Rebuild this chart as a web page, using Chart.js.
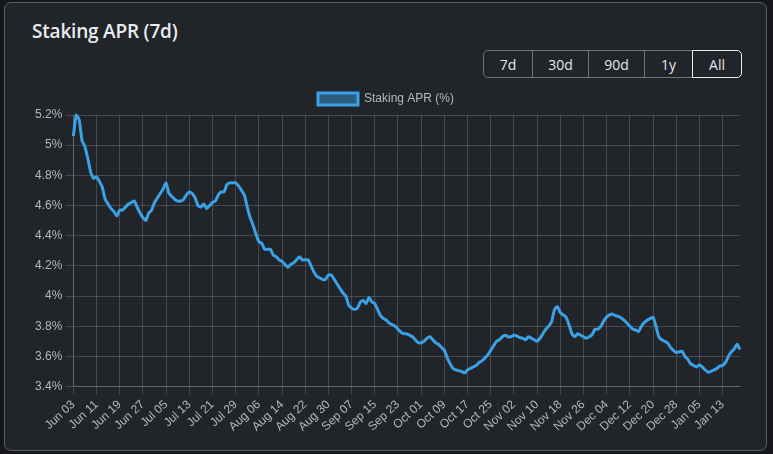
<!DOCTYPE html>
<html>
<head>
<meta charset="utf-8">
<script src="https://cdn.jsdelivr.net/npm/chart.js@4.4.1/dist/chart.umd.min.js"></script>
<style>
  html,body{margin:0;padding:0;background:#15171a;width:773px;height:454px;overflow:hidden;}
  .card{position:absolute;left:4px;top:2px;width:763px;height:449px;background:#212429;border:1px solid #5a5f66;border-radius:7px;box-sizing:border-box;}
  .title{position:absolute;left:32px;top:18px;color:#e9ecef;font-family:"Open Sans",sans-serif;font-weight:600;font-size:19px;letter-spacing:-0.2px;}
  .btns{position:absolute;left:483px;top:50px;height:28px;display:flex;}
  .btn{box-sizing:border-box;height:28px;border:1px solid #6c737b;margin-left:-1px;color:#e3e6e9;font-family:"Open Sans",sans-serif;font-size:14px;display:flex;align-items:center;justify-content:center;background:#212429;}
  .btn.first{border-radius:5px 0 0 5px;margin-left:0;}
  .btn.last{border-radius:0 5px 5px 0;border-color:#e9ecef;position:relative;}
  #wrap{position:absolute;left:20px;top:83px;width:740px;height:354px;}
</style>
</head>
<body>
<div class="card"></div>
<div class="title">Staking APR (7d)</div>
<div class="btns">
  <div class="btn first" style="width:50px">7d</div>
  <div class="btn" style="width:57px">30d</div>
  <div class="btn" style="width:57px">90d</div>
  <div class="btn" style="width:49px">1y</div>
  <div class="btn last" style="width:50px">All</div>
</div>
<div id="wrap"><canvas id="c"></canvas></div>
<script>
const startDate = "2023-06-03";
const seriesLabel = "Staking APR (%)";
const aprValues = [
5.06,5.20,5.17,5.03,4.99,4.91,4.82,4.78,4.79,4.76,
4.72,4.64,4.61,4.58,4.56,4.53,4.57,4.57,4.59,4.61,
4.62,4.63,4.59,4.55,4.52,4.50,4.55,4.57,4.62,4.65,
4.68,4.71,4.75,4.68,4.66,4.64,4.63,4.63,4.64,4.67,
4.69,4.68,4.65,4.60,4.59,4.61,4.58,4.60,4.62,4.63,
4.67,4.69,4.69,4.74,4.75,4.75,4.75,4.73,4.70,4.67,
4.59,4.52,4.47,4.41,4.36,4.35,4.31,4.31,4.31,4.27,
4.26,4.24,4.23,4.21,4.19,4.21,4.22,4.24,4.26,4.24,
4.24,4.24,4.20,4.16,4.13,4.12,4.11,4.11,4.14,4.14,
4.11,4.08,4.05,4.02,4.00,3.94,3.92,3.91,3.92,3.96,
3.97,3.95,3.99,3.96,3.95,3.91,3.87,3.85,3.84,3.82,
3.81,3.80,3.78,3.76,3.75,3.75,3.74,3.73,3.71,3.69,
3.69,3.70,3.72,3.73,3.71,3.69,3.68,3.66,3.64,3.59,
3.55,3.52,3.51,3.505,3.50,3.49,3.51,3.52,3.53,3.54,
3.56,3.57,3.59,3.61,3.64,3.67,3.70,3.71,3.73,3.74,
3.73,3.73,3.74,3.735,3.725,3.72,3.71,3.73,3.72,3.71,
3.70,3.72,3.75,3.78,3.80,3.83,3.91,3.93,3.89,3.875,
3.86,3.81,3.75,3.73,3.75,3.74,3.73,3.72,3.73,3.745,
3.78,3.78,3.80,3.835,3.86,3.875,3.88,3.87,3.865,3.855,
3.84,3.82,3.80,3.78,3.775,3.765,3.80,3.825,3.84,3.85,
3.86,3.80,3.73,3.71,3.70,3.69,3.66,3.64,3.625,3.63,
3.635,3.60,3.58,3.55,3.54,3.53,3.545,3.53,3.51,3.495,
3.50,3.51,3.52,3.535,3.54,3.56,3.60,3.63,3.65,3.68,
3.645
];
const monthNames = ["Jan","Feb","Mar","Apr","May","Jun","Jul","Aug","Sep","Oct","Nov","Dec"];
const dateLabels = aprValues.map((v,i)=>{
  const d = new Date(startDate+"T00:00:00Z");
  d.setUTCDate(d.getUTCDate()+i);
  return monthNames[d.getUTCMonth()]+" "+String(d.getUTCDate()).padStart(2,"0");
});
const yTicks = {min:3.4, max:5.2, step:0.2};
const points = aprValues.map((v,i)=>({x:i,y:v}));

const gridColor = "rgba(255,255,255,0.17)";
const tickColor = "#b4b9bf";
new Chart(document.getElementById("c"),{
  type:"line",
  data:{datasets:[{
    label:seriesLabel,
    data:points,
    borderColor:"#3ba1e6",
    backgroundColor:"rgba(59,161,230,0.45)",
    borderWidth:3,
    pointRadius:0,
    tension:0.15,
    fill:false,
    clip:4
  }]},
  options:{
    responsive:true,
    maintainAspectRatio:false,
    animation:false,
    layout:{padding:{left:12,right:20,top:0,bottom:0}},
    plugins:{
      legend:{labels:{color:tickColor,font:{size:12},boxWidth:40,boxHeight:12}},
      tooltip:{enabled:false}
    },
    scales:{
      x:{type:"linear",min:0,max:aprValues.length-1,
        grid:{color:gridColor},
        border:{color:gridColor},
        ticks:{stepSize:8,includeBounds:false,autoSkip:false,color:tickColor,font:{size:12},
          minRotation:43,maxRotation:43,
          callback:(v)=>dateLabels[v]}
      },
      y:{min:yTicks.min,max:yTicks.max,
        grid:{color:gridColor},
        border:{color:gridColor},
        ticks:{stepSize:yTicks.step,color:tickColor,font:{size:12},
          callback:(v)=>(Math.round(v*10)/10)+"%"}
      }
    }
  }
});
</script>
</body>
</html>
